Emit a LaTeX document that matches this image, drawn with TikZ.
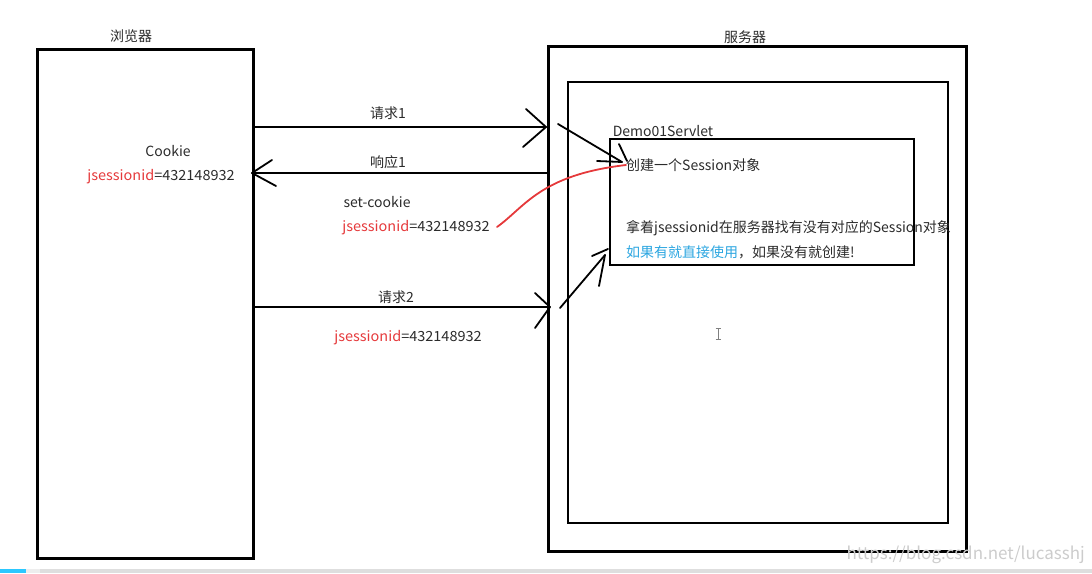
\documentclass[tikz,border=0pt]{standalone}
\usepackage{fontspec}
\setmainfont{Noto Sans CJK SC}
\newfontfamily\idfont[FakeStretch=1.035]{Noto Sans CJK SC}
\usepackage{tikz}
\usetikzlibrary{positioning}
\definecolor{idred}{HTML}{E5393B}
\definecolor{linkblue}{HTML}{2AA5E0}
\definecolor{inktext}{HTML}{2B2B2B}
\definecolor{barcyan}{HTML}{2BC8FF}
\tikzset{
    box/.style={draw=black, inner sep=0pt, outer sep=0pt, anchor=north west},
    pen/.style={draw=black, line width=1.8pt, line cap=round, line join=round},
    label/.style={text=inktext, font=\fontsize{14}{16}\selectfont, inner sep=0pt}
}
\newcommand{\sid}{{\idfont\textcolor{idred}{jsessionid}=432148932}}

\begin{document}
\begin{tikzpicture}[x=1pt, y=-1pt]
    \useasboundingbox (0, 0) rectangle (1092, 573);

    % The boxes
    \node[box, line width=3pt, minimum width=216pt, minimum height=509pt] (browser) at (37, 49) {};
    \node[box, line width=3pt, minimum width=418pt, minimum height=505pt] (server) at (548, 46) {};
    \node[box, line width=2pt, minimum width=380pt, minimum height=441pt] (container) at (568, 82) {};
    \node[box, line width=2pt, minimum width=304pt, minimum height=126pt] (servlet) at (610, 139) {};

    \node[label] (browsername) at (131, 36) {浏览器};
    \node[label] (servername) at (745, 37) {服务器};
    \node[label] (servletname) at (663, 131) {Demo01Servlet};

    % Texts between the two sides
    \node[label] (cookie) at (168, 151) {Cookie};
    \node[label] (cookieid) at (161, 177) {\sid};
    \node[label] (reqone) at (388, 113) {请求1};
    \node[label] (respone) at (388, 162) {响应1};
    \node[label] (setcookie) at (377, 202) {set-cookie};
    \node[label] (setid) at (416, 228) {\sid};
    \node[label] (reqtwo) at (396, 297) {请求2};
    \node[label] (reqid) at (408, 338) {\sid};

    % Texts in the servlet
    \node[label, anchor=west] (create) at (626, 165) {创建一个Session对象};
    \node[label, anchor=west] (lookup) at (626, 228) {拿着jsessionid在服务器找有没有对应的Session对象};
    \node[label, anchor=west] (reuse) at (626, 252) {\textcolor{linkblue}{如果有就直接使用}，如果没有就创建!};

    % The hand drawn arrows
    \coordinate (reqonetip) at (546, 127);
    \coordinate (responetip) at (252, 173);
    \coordinate (reqtwotip) at (550, 307);
    \coordinate (createtail) at (558, 124);
    \coordinate (createtip) at (622, 162);
    \coordinate (looktail) at (560, 308);
    \coordinate (looktip) at (605, 255);
    \coordinate (redtail) at (497, 227);

    \draw[pen] (browser.east |- reqonetip) -- (reqonetip);
    \draw[pen] (526, 109) -- (reqonetip) -- (523, 147);
    \draw[pen] (server.west |- responetip) -- (responetip);
    \draw[pen] (272, 160) -- (responetip) -- (276, 186);
    \draw[pen] (browser.east |- reqtwotip) -- (reqtwotip);
    \draw[pen] (535, 293) -- (reqtwotip) -- (535, 328);

    \draw[pen] (createtail) -- (createtip);
    \draw[pen] (597, 161) -- (createtip);
    \draw[pen] (619, 144) -- (627, 161);
    \draw[pen] (looktail) -- (looktip);
    \draw[pen] (592, 256) -- (608, 249);
    \draw[pen] (599, 286) -- (looktip);

    % The red line
    \draw[idred, line width=1.8pt, line cap=round] (redtail) .. controls (525, 207) and (540, 175) .. (create.west);

    % Cursor, watermark and the bar at the bottom
    \draw[gray, line width=0.8pt] (715.5, 328) -- (720.5, 328) (718, 328) -- (718, 339) (715.5, 339) -- (720.5, 339);
    \node[text=black!20, font=\fontsize{17}{17}\selectfont, inner sep=0pt, anchor=east] (watermark) at (1085, 555) {https://blog.csdn.net/lucasshj};
    \fill[black!13] (0, 569) rectangle (1092, 573);
    \fill[black!7] (26, 569) rectangle (40, 573);
    \fill[barcyan] (0, 569) rectangle (26, 573);
\end{tikzpicture}
\end{document}
